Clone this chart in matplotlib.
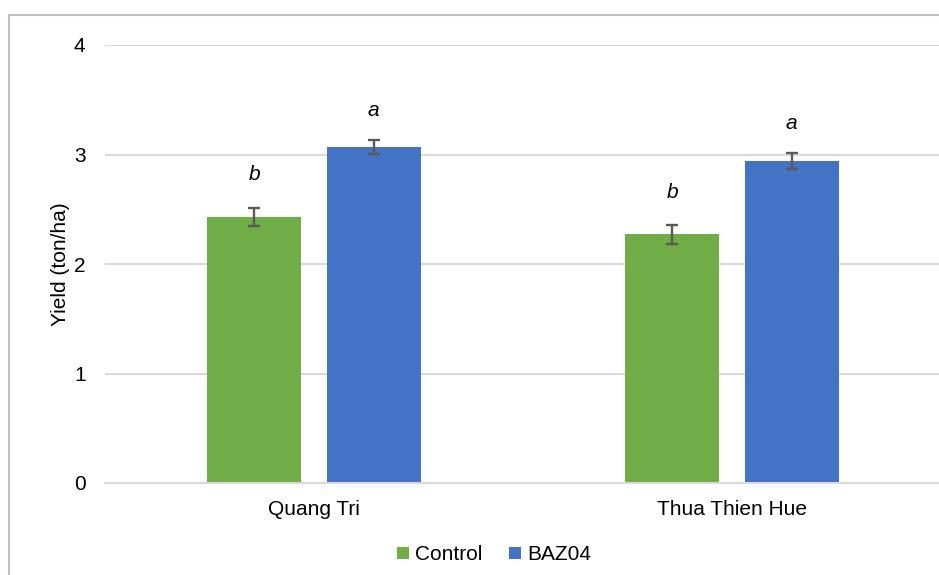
"""Yield of Control vs BAZ04 at two sites"""
import matplotlib
matplotlib.use('Agg')
import matplotlib.pyplot as plt
from matplotlib.patches import Rectangle
import numpy as np

sites = ['Quang Tri', 'Thua Thien Hue']
control = [2.43, 2.27]
control_err = [0.084, 0.085]
baz04 = [3.07, 2.94]
baz04_err = [0.061, 0.07]
control_letters = ['b', 'b']
baz04_letters = ['a', 'a']

plt.rcParams['font.family'] = ['Liberation Sans', 'DejaVu Sans']

fig = plt.figure(figsize=(9.39, 5.75), dpi=100)
ax = fig.add_axes([105 / 939, 1 - 483 / 575, 836 / 939, 438 / 575])

x = np.arange(len(sites))
width = 0.225
offset = 0.1426
err_kw = dict(ecolor='#595959', elinewidth=1.7, capsize=4, capthick=1.7)

ax.bar(x - offset, control, width, color='#70AD47', label='Control',
       yerr=control_err, error_kw=err_kw, zorder=2)
ax.bar(x + offset, baz04, width, color='#4472C4', label='BAZ04',
       yerr=baz04_err, error_kw=err_kw, zorder=2)

# letters of significance above the error bars
for i in range(len(sites)):
    ax.text(x[i] - offset, control[i] + control_err[i] + 0.30, control_letters[i],
            ha='center', va='center', fontsize=15, style='italic')
    ax.text(x[i] + offset, baz04[i] + baz04_err[i] + 0.27, baz04_letters[i],
            ha='center', va='center', fontsize=15, style='italic')

ax.set_xlim(-0.5, 1.5)
ax.set_ylim(0, 4)
ax.set_yticks([0, 1, 2, 3, 4])
ax.set_xticks(x)
ax.set_xticklabels(sites)
ax.tick_params(axis='both', length=0, labelsize=15, colors='#000000')
ax.tick_params(axis='y', pad=14)
ax.tick_params(axis='x', pad=12)
ax.grid(axis='y', color='#D9D9D9', linewidth=1.5, zorder=0)
ax.set_axisbelow(True)
for side in ['top', 'right', 'left']:
    ax.spines[side].set_visible(False)
ax.spines['bottom'].set_color('#D9D9D9')
ax.spines['bottom'].set_linewidth(1.5)
ax.set_ylabel('Yield (ton/ha)', fontsize=15)
ax.yaxis.set_label_coords(-0.042, 0.5)

fig.legend(loc='center', bbox_to_anchor=(494 / 939, 1 - 555 / 575), ncol=2,
           frameon=False, fontsize=15, handlelength=0.55, handleheight=0.55,
           handletextpad=0.3, columnspacing=1.3)

# chart border
fig.patches.append(Rectangle((8.5 / 939, -0.1), 1.2, 1.1 - 15.5 / 575,
                             transform=fig.transFigure, fill=False,
                             edgecolor='#BFBFBF', linewidth=1.5))

fig.savefig('out.png', dpi=100)
